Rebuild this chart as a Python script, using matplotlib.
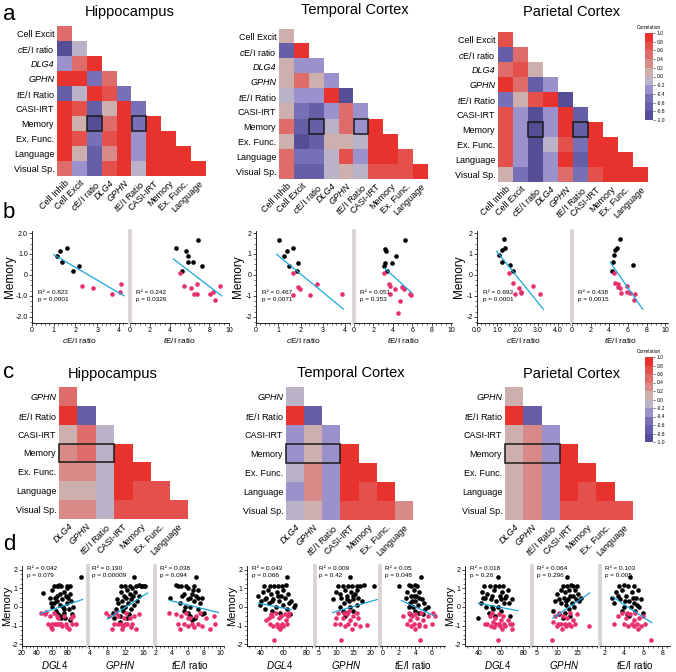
import numpy as np
import matplotlib
matplotlib.use("Agg")
import matplotlib.pyplot as plt
from matplotlib.colors import ListedColormap, BoundaryNorm
from matplotlib.patches import Rectangle
from matplotlib.ticker import AutoMinorLocator
import matplotlib.cm as cm

plt.rcParams["font.family"] = ["Liberation Sans", "DejaVu Sans"]
plt.rcParams["mathtext.fontset"] = "custom"
plt.rcParams["mathtext.it"] = "Liberation Sans:italic"
plt.rcParams["mathtext.rm"] = "Liberation Sans"

# ---------------- data: correlation matrices ----------------
rows_a = ["Cell Excit", "$c$E/I ratio", "DLG4", "GPHN", "$t$E/I Ratio",
          "CASI-IRT", "Memory", "Ex. Func.", "Language", "Visual Sp."]
cols_a = ["Cell Inhib", "Cell Excit", "$c$E/I ratio", "DLG4", "GPHN",
          "$t$E/I Ratio", "CASI-IRT", "Memory", "Ex. Func.", "Language"]

hip_a = [
    [0.5],
    [-0.9, -0.1],
    [-0.3, 0.5, 0.9],
    [0.9, 0.9, -0.5, 0.5],
    [-0.7, -0.1, 0.9, 0.7, -0.5],
    [0.9, 0.7, -0.7, 0.1, 0.9, -0.5],
    [0.9, 0.1, -0.9, 0.5, 0.9, -0.5, 0.9],
    [0.9, 0.7, -0.5, 0.7, 0.9, -0.3, 0.9, 0.9],
    [0.9, 0.1, -0.7, 0.3, 0.9, -0.3, 0.9, 0.9, 0.9],
    [0.5, -0.3, -0.7, 0.7, 0.9, -0.1, 0.9, 0.9, 0.9, 0.9],
]
tmp_a = [
    [0.1],
    [-0.7, 0.9],
    [0.1, -0.3, -0.3],
    [0.1, 0.5, 0.1, -0.3],
    [-0.1, -0.3, -0.3, 0.9, -0.9],
    [0.1, -0.5, -0.7, -0.3, 0.5, -0.3],
    [0.5, -0.7, -0.7, -0.1, 0.5, -0.3, 0.9],
    [0.1, -0.9, -0.7, 0.1, 0.1, -0.1, 0.9, 0.9],
    [0.5, -0.5, -0.5, -0.1, 0.7, -0.3, 0.9, 0.9, 0.7],
    [0.5, -0.7, -0.7, -0.1, 0.1, -0.1, 0.7, 0.7, 0.7, 0.9],
]
par_a = [
    [0.7],
    [-0.7, 0.5],
    [0.5, 0.7, 0.1],
    [0.9, 0.5, -0.7, -0.3],
    [-0.5, 0.1, 0.7, 0.9, -0.9],
    [0.7, -0.3, -0.9, -0.3, 0.9, -0.7],
    [0.7, -0.3, -0.9, -0.3, 0.9, -0.7, 0.9],
    [0.7, -0.3, -0.9, -0.1, 0.7, -0.5, 0.9, 0.9],
    [0.7, -0.3, -0.9, -0.3, 0.9, -0.7, 0.9, 0.9, 0.9],
    [0.1, -0.5, -0.9, -0.3, 0.5, -0.5, 0.7, 0.9, 0.9, 0.9],
]

rows_c = ["GPHN", "$t$E/I Ratio", "CASI-IRT", "Memory", "Ex. Func.", "Language", "Visual Sp."]
cols_c = ["DLG4", "GPHN", "$t$E/I Ratio", "CASI-IRT", "Memory", "Ex. Func.", "Language"]

hip_c = [
    [0.5],
    [0.9, -0.7],
    [0.1, 0.5, -0.1],
    [0.3, 0.5, -0.1, 0.9],
    [0.3, 0.3, -0.1, 0.9, 0.9],
    [0.1, 0.1, -0.1, 0.9, 0.7, 0.7],
    [0.3, 0.3, -0.1, 0.7, 0.7, 0.7, 0.7],
]
tmp_c = [
    [-0.1],
    [0.9, -0.7],
    [-0.3, 0.1, -0.3],
    [-0.3, 0.1, -0.3, 0.9],
    [-0.1, 0.3, -0.3, 0.9, 0.9],
    [-0.3, 0.3, -0.3, 0.9, 0.7, 0.9],
    [-0.1, 0.1, -0.3, 0.7, 0.7, 0.7, 0.3],
]
par_c = [
    [0.1],
    [0.9, -0.7],
    [0.1, 0.3, -0.3],
    [0.1, 0.3, -0.3, 0.9],
    [0.1, 0.3, -0.3, 0.9, 0.9],
    [0.1, 0.3, -0.3, 0.9, 0.7, 0.9],
    [0.1, 0.3, -0.3, 0.7, 0.7, 0.7, 0.7],
]

# ---------------- data: panel b scatter ----------------
hip_ce_bx = [1.13, 1.29, 1.36, 1.6, 1.9, 2.18]
hip_ce_by = [0.89, 1.16, 0.6, 1.29, 0.19, 0.45]
hip_ce_px = [2.3, 2.82, 3.66, 4.08, 4.05]
hip_ce_py = [-0.53, -0.64, -0.9, -0.42, -0.84]
hip_ce_fit = ([1.0, 4.23], [0.97, -1.0])

hip_te_bx = [4.62, 5.66, 5.89, 5.83, 6.4, 6.9, 7.3, 5.25]
hip_te_by = [1.29, 1.16, 0.89, 0.6, 0.6, 1.69, 0.45, 0.19]
hip_te_px = [5.05, 5.45, 6.16, 6.73, 6.5, 6.73, 8.08, 8.4, 8.6, 9.1]
hip_te_py = [0.11, -0.53, -0.64, -0.43, -0.92, -0.9, -0.93, -0.8, -1.22, -0.52]
hip_te_fit = ([4.38, 9.26], [0.76, -1.0])

tmp_ce_bx = [1.05, 1.27, 1.38, 1.65, 1.48, 1.87, 1.86]
tmp_ce_by = [1.69, 0.9, 1.14, 1.29, 0.45, 0.58, 0.18]
tmp_ce_px = [1.65, 1.68, 1.9, 1.98, 2.43, 2.74, 3.85]
tmp_ce_py = [0.08, -0.95, -0.56, -0.66, -0.98, -0.45, -0.92]
tmp_ce_fit = ([0.93, 3.93], [0.98, -1.64])

tmp_te_bx = [3.16, 3.34, 3.23, 3.1, 3.92, 4.37, 5.3, 3.4]
tmp_te_by = [1.26, 1.14, 0.58, 0.45, 0.58, 0.9, 1.69, 0.18]
tmp_te_px = [3.09, 3.6, 3.75, 3.75, 4.27, 4.78, 4.99, 5.12, 5.74, 5.84, 4.5]
tmp_te_py = [0.08, -0.45, -0.55, -0.93, -0.66, -1.25, -0.59, -0.66, -0.93, -0.97, -1.8]
tmp_te_fit = ([3.16, 5.92], [0.32, -0.84])

par_ce_bx = [1.1, 1.25, 1.33, 1.38, 1.25, 1.64, 1.79]
par_ce_by = [0.93, 1.17, 1.71, 1.3, 0.61, 0.48, 0.21]
par_ce_px = [1.58, 1.79, 1.86, 2.07, 2.17, 2.2, 2.75, 3.11]
par_ce_py = [0.1, -0.4, -0.92, -0.64, -0.8, -0.88, -0.55, -0.93]
par_ce_fit = ([0.97, 3.28], [1.13, -1.64])

par_te_bx = [4.27, 4.44, 4.52, 4.62, 4.87, 5.16, 6.52]
par_te_by = [0.18, 0.61, 0.93, 1.17, 1.3, 1.71, 0.48]
par_te_px = [4.52, 4.62, 4.91, 4.98, 5.16, 5.23, 5.88, 5.88, 6.24, 6.6, 6.77]
par_te_py = [0.1, -0.4, -0.6, -0.45, -0.64, -0.88, -0.8, -0.55, -0.87, -1.2, -0.93]
par_te_fit = ([4.09, 7.59], [0.61, -1.64])

stats_b = [["R² = 0.823\np = 0.0001", "R² = 0.242\np = 0.0326"],
           ["R² = 0.467\np = 0.0071", "R² = 0.051\np = 0.353"],
           ["R² = 0.693\np = 0.0001", "R² = 0.438\np = 0.0015"]]

# ---------------- data: panel d scatter ----------------
hip_dlg_bx = [48, 57, 60, 62, 65, 66, 68, 69, 70, 71, 72, 73, 74, 75, 76, 77, 78, 79, 80, 80,
              81, 82, 83, 84, 85, 86, 87, 70, 72, 66, 60, 64, 58, 76, 83, 98, 68, 62, 66]
hip_dlg_by = [0.75, 0.5, 0.9, 0.2, -0.2, 0.3, 1.1, 1.2, 0.7, -0.5, 1.1, 0.4, 0.0, -0.3, 0.8, -0.6,
              0.6, 0.2, 1.0, 1.1, 0.5, -0.1, 0.7, 1.1, 0.3, -0.4, 0.0, 0.1, -0.6, 0.6, 0.0, 0.5,
              0.2, -0.1, -0.7, 1.6, -0.4, 1.1, 1.1]
hip_dlg_px = [45, 50, 52, 55, 57, 58, 60, 62, 63, 65, 67, 68, 70, 72, 73, 75, 78, 80, 82, 85,
              88, 92, 86, 60, 66]
hip_dlg_py = [-0.35, -0.4, -0.25, -0.9, -0.5, -1.1, -0.9, -0.3, -0.9, -0.9, -0.6, -0.9, -0.9,
              -0.9, -1.0, -0.5, -0.9, -1.1, -1.2, -0.6, -0.5, -0.9, -0.9, -1.2, -0.5]
hip_dlg_fit = ([45, 100], [-0.35, 0.4])

hip_gph_bx = [9.2, 9.5, 10, 10.2, 10.5, 10.8, 11, 11, 11.3, 11.5, 11.8, 12, 12, 12.2, 12.4, 12.5,
              12.7, 13, 13, 13.2, 13.4, 13.6, 13.8, 14, 14, 14.2, 14.5, 14.7, 15, 15.2, 15.5,
              15.8, 16.2, 16.5, 10.8, 12.8, 11.2]
hip_gph_by = [-0.3, -0.6, -0.1, 0.4, 0.2, -0.5, 0.8, 1.1, 0.3, -0.2, 0.6, 1.1, 0.0, 0.5, -0.6,
              0.9, 0.2, 1.1, 0.7, -0.1, 0.4, 1.0, 0.6, 1.6, 0.1, 0.8, 1.1, 0.3, 1.2, 0.6, 1.1,
              1.1, 1.1, 1.1, -0.8, -0.4, 0.0]
hip_gph_px = [7.8, 8.5, 9, 9.5, 10, 10.3, 10.5, 11, 11.5, 11.8, 12, 12.3, 12.5, 13, 13.2, 13.5,
              14, 14.5, 15, 11.2]
hip_gph_py = [-0.35, -0.5, -1.2, -0.9, -0.3, -0.9, -0.5, -0.9, -1.0, -0.6, -0.9, -0.3, -0.9,
              -0.6, -1.1, -0.9, -0.5, -1.2, -0.4, -1.2]
hip_gph_fit = ([8, 17], [-0.65, 0.75])

hip_tei_bx = [3.8, 4.5, 4.8, 5, 5.2, 5.5, 5.5, 5.8, 6, 6, 6.2, 6.3, 6.5, 6.5, 6.7, 6.8, 7, 7,
              7.2, 7.3, 7.5, 7.7, 6, 5.7, 6.3, 6.9, 7.2, 5.3, 6.6, 8, 7.8]
hip_tei_by = [0.5, 1.2, 1.1, 0.2, 1.1, 0.7, -0.2, 1.1, 0.4, 1.0, 0.0, -0.5, 0.7, -0.7, 0.3, 1.1,
              1.6, 0.6, -0.1, 0.9, 0.2, -0.4, -0.3, 0.0, 0.5, -0.6, 0.5, 0.6, 0.9, -0.3, 0.5]
hip_tei_px = [3.6, 4.5, 4.8, 5, 5.2, 5.5, 5.8, 6, 6.2, 6.5, 6.8, 7, 7.3, 7.5, 7.8, 8.2, 8.8,
              9.2, 9.4, 6]
hip_tei_py = [-0.35, -0.4, -0.9, -1.2, -0.5, -0.9, -0.3, -1.0, -0.6, -0.9, -1.1, -0.5, -0.9,
              -0.3, -1.0, -0.6, -1.2, -0.5, -0.9, -0.6]
hip_tei_fit = ([3.7, 9.8], [0.35, -0.3])

tmp_dlg_bx = [38, 39, 40, 42, 43, 44, 45, 47, 48, 49, 50, 51, 52, 53, 54, 55, 56, 57, 58, 59,
              60, 61, 62, 63, 63, 64, 65, 66, 67, 69, 70, 46, 55, 60, 50, 44]
tmp_dlg_by = [0.6, 0.1, 0.3, 0.8, 1.1, -0.1, 0.5, 0.2, 1.1, 0.7, -0.2, 0.4, 1.1, 0.0, 0.8, 1.1,
              0.3, -0.3, 0.6, 1.1, 0.1, 0.5, 1.2, 1.6, -0.1, 0.7, 0.2, -0.4, 0.3, 0.0, 0.1, 0.9,
              0.6, 0.9, 0.3, 0.4]
tmp_dlg_px = [45, 47, 48, 50, 51, 52, 53, 54, 55, 56, 57, 58, 59, 60, 61, 62, 63, 64, 65, 49, 58]
tmp_dlg_py = [-0.7, -0.6, -0.9, -0.5, -1.0, -1.8, -0.3, -0.9, -1.1, -0.6, -1.2, -0.5, -0.9,
              -1.0, -0.4, -0.7, -0.9, -0.5, -0.3, -0.4, -1.0]
tmp_dlg_fit = ([38, 67], [0.2, -0.15])

tmp_gph_bx = [9, 10, 10.5, 11, 11.5, 12, 12.3, 12.5, 13, 13, 13.5, 13.8, 14, 14, 14.3, 14.5,
              15, 15, 15.5, 16, 16, 16.5, 17, 17.5, 18, 12, 13.2, 14.8, 11, 21, 12.7, 16]
tmp_gph_by = [0.4, 0.8, 1.1, 0.0, 0.5, 1.1, 0.2, 0.9, -0.3, 0.6, 1.1, 0.3, 1.6, 0.0, 0.8, 1.1,
              0.4, -0.2, 0.7, 1.1, 0.1, 0.5, 1.1, 0.3, 1.2, -0.2, 0.4, 0.6, 0.7, 1.1, -0.5, 0.9]
tmp_gph_px = [9.5, 10, 10.5, 11, 11.3, 12, 12.5, 13, 13.5, 14, 14.5, 15, 15.5, 16, 16.5, 17,
              19, 13.8, 12.2]
tmp_gph_py = [-0.9, -0.6, -0.3, -0.9, -1.8, -0.6, -1.0, -0.4, -0.9, -0.7, -1.2, -0.5, -0.9,
              -0.3, -0.6, -1.0, -0.95, -0.2, -0.3]
tmp_gph_fit = ([9, 22], [-0.3, 0.4])

tmp_tei_bx = [2, 2.8, 3, 3.2, 3.3, 3.5, 3.5, 3.7, 3.8, 3.9, 4, 4, 4.1, 4.2, 4.3, 4.5, 4.5, 4.7,
              4.8, 5, 5.2, 5.5, 3.4, 3.6, 4.4, 3.8, 4.9, 3.2]
tmp_tei_by = [1.1, 0.5, 0.8, 1.2, 0.2, 1.1, 0.6, 0.0, 0.9, 0.3, 1.2, -0.2, 0.6, 1.1, 0.1, 0.8,
              -0.3, 1.6, 0.4, 0.2, -0.1, 0.0, -0.4, 0.3, 0.5, 0.6, -0.4, 0.0]
tmp_tei_px = [2.5, 3, 3.2, 3.4, 3.5, 3.6, 3.8, 4, 4, 4.2, 4.4, 4.5, 4.6, 4.7, 4.9, 5.2, 5.5, 6,
              6.4, 6.2]
tmp_tei_py = [-0.5, -0.9, -0.3, -0.7, -1.0, -0.5, -0.9, -1.2, -0.4, -0.6, -0.9, -1.0, -1.8,
              -0.3, -0.7, -1.0, -0.5, -0.9, -0.5, -0.3]
tmp_tei_fit = ([2.3, 6.4], [0.35, -0.5])

par_dlg_bx = [40, 42, 43, 45, 46, 47, 48, 49, 50, 51, 52, 53, 54, 55, 56, 57, 57, 58, 59, 60,
              61, 62, 63, 64, 65, 67, 68, 70, 44, 52, 60, 66, 55]
par_dlg_by = [-0.6, 0.2, 0.8, 1.1, 0.5, 0.0, 0.7, -0.3, 1.1, 0.4, 0.6, -0.1, 0.9, 1.1, 0.3, 1.6,
              0.0, 1.1, 0.6, -0.2, 0.8, 1.1, 0.2, 0.5, 0.6, 0.2, -0.5, 0.4, 0.5, 0.0, 0.4, 0.9,
              -0.5]
par_dlg_px = [48, 50, 51, 52, 53, 54, 55, 56, 57, 58, 59, 60, 61, 62, 63, 64, 66, 68, 70, 70,
              46, 58]
par_dlg_py = [-0.9, -0.5, -1.0, -0.3, -0.8, -1.1, -0.6, -0.9, -1.8, -0.4, -1.0, -0.7, -1.2,
              -0.5, -0.9, -1.0, -0.7, -0.9, -1.2, -0.9, -0.9, -0.9]
par_dlg_fit = ([40, 75], [0.2, -0.2])

par_gph_bx = [9, 9.5, 10, 10.5, 11, 11, 11.5, 11.8, 12, 12, 12.3, 12.5, 12.6, 12.8, 13, 13,
              13.3, 13.5, 13.8, 14, 14, 14.3, 14.5, 14.8, 15, 15.2, 15.5, 16, 11.5, 10.5, 13.2,
              12.2]
par_gph_by = [-0.2, 0.3, 0.7, -0.4, 0.2, 0.9, 1.1, 0.5, -0.3, 0.8, 0.1, 1.1, 1.6, 0.4, -0.1,
              0.9, 0.6, 1.2, 0.2, 1.1, 0.6, 0.0, 0.9, 0.4, 1.1, 0.7, 0.3, 0.5, -0.6, 0.4, -0.5,
              0.3]
par_gph_px = [8.8, 9, 9.5, 10, 10.5, 11, 11.2, 11.5, 12, 12.2, 12.5, 13, 13.2, 13.5, 14, 14.5,
              15, 18, 10.2]
par_gph_py = [-1.8, -0.8, -0.5, -1.0, -0.3, -0.9, -1.2, -0.5, -0.9, -1.0, -0.6, -0.9, -0.3,
              -1.0, -0.7, -0.9, -0.4, -1.0, -0.9]
par_gph_fit = ([9, 18.2], [-0.6, 0.75])

par_tei_bx = [2.8, 3, 3.2, 3.5, 3.6, 3.8, 3.8, 4, 4, 4.2, 4.3, 4.4, 4.5, 4.6, 4.7, 4.8, 5, 5,
              5.2, 5.3, 5.5, 5.6, 5.8, 6, 4.1, 3.4, 4.9, 4.5, 5.4]
par_tei_by = [0.5, 0.2, 0.8, 1.1, 0.4, -0.2, 0.9, 0.0, 1.2, 0.6, -0.4, 1.1, 0.3, 1.6, 0.0, 0.8,
              1.1, 0.2, -0.2, 0.5, 0.9, 0.0, 0.4, -0.3, 0.3, 0.6, 0.5, -0.5, 0.1]
par_tei_px = [3, 3.4, 3.8, 4, 4.2, 4.4, 4.6, 4.8, 5, 5, 5.2, 5.4, 5.5, 5.6, 5.8, 6, 6.2, 6.8, 4.3]
par_tei_py = [-0.9, -0.5, -0.3, -0.9, -0.6, -1.0, -0.4, -0.9, -0.7, -1.0, -0.3, -0.9, -1.2,
              -0.6, -1.0, -0.5, -0.9, -1.8, -0.3]
par_tei_fit = ([2.8, 6.9], [0.55, -0.85])

stats_d = [["R² = 0.042\np = 0.079", "R² = 0.190\np = 0.00009", "R² = 0.038\np = 0.094"],
           ["R² = 0.043\np = 0.066", "R² = 0.009\np = 0.42", "R² = 0.05\np = 0.048"],
           ["R² = 0.018\np = 0.26", "R² = 0.064\np = 0.296", "R² = 0.103\np = 0.005"]]

# ---------------- style ----------------
W, H = 676, 672
PINK = "#E8306E"
BLUE = "#1BA6DE"
SEP = "#D8D2D2"
cmap = ListedColormap(["#534E96", "#645FA6", "#7870B6", "#9B91CC", "#BAB3C8",
                       "#CDB0AE", "#D88A88", "#DD6C6A", "#E4514D", "#E8322D"])
norm = BoundaryNorm(np.linspace(-1, 1, 11), cmap.N)

fig = plt.figure(figsize=(W / 100, H / 100), dpi=100)


def pax(x0, y0, x1, y1):
    return fig.add_axes([x0 / W, 1 - y1 / H, (x1 - x0) / W, (y1 - y0) / H])


def ftext(x, y, s, **kw):
    fig.text(x / W, 1 - y / H, s, **kw)


def heatmap(box, rows, cols, mat, box_cols, fs=6.5):
    ax = pax(*box)
    n, m = len(rows), len(cols)
    arr = np.full((n, m), np.nan)
    for i, r in enumerate(mat):
        arr[i, :len(r)] = r
    ax.imshow(np.ma.masked_invalid(arr), cmap=cmap, norm=norm, aspect="auto",
              extent=(0, m, n, 0), interpolation="nearest")
    ax.set_xlim(0, m)
    ax.set_ylim(n, 0)
    ax.set_yticks(np.arange(n) + 0.5, rows, fontsize=fs)
    ax.set_xticks(np.arange(m) + 0.5, cols, fontsize=fs, rotation=45,
                  ha="right", rotation_mode="anchor")
    ax.tick_params(length=0, pad=2)
    for lab in ax.get_xticklabels() + ax.get_yticklabels():
        if lab.get_text() in ("DLG4", "GPHN"):
            lab.set_fontstyle("italic")
    for s in ax.spines.values():
        s.set_visible(False)
    mi = rows.index("Memory")
    for c0, c1 in box_cols:
        ax.add_patch(Rectangle((c0, mi), c1 - c0, 1, fill=False, ec="#1a1a1a", lw=1.1,
                               clip_on=False))
    return ax


def colorbar(box):
    cax = pax(*box)
    cb = fig.colorbar(cm.ScalarMappable(norm=norm, cmap=cmap), cax=cax,
                      ticks=np.linspace(-1, 1, 11))
    cb.ax.set_yticklabels([f"{v:.1f}" for v in np.linspace(-1, 1, 11)])
    cb.ax.tick_params(labelsize=3.5, length=1.5, width=0.4, pad=1)
    cb.outline.set_visible(False)
    cax.set_title("Correlation", fontsize=3.5, pad=3)


def scatter(box, bx, by, px, py, fit, xlim, xticks, ylim, yticks, ylabels=None,
            xfmt="{:g}", sep=False, xlabel=None, stats=None, stats_top=False, minor=5,
            ylab_off=-12, ylab_fs=8.5):
    ax = pax(*box)
    ax.scatter(bx, by, s=11, c="black", lw=0, zorder=3)
    ax.scatter(px, py, s=11, c=PINK, lw=0, zorder=3)
    ax.plot(fit[0], fit[1], color=BLUE, lw=0.9, zorder=4)
    ax.set_xlim(*xlim)
    ax.set_ylim(*ylim)
    ax.set_xticks(xticks, [xfmt.format(v) for v in xticks])
    ax.xaxis.set_minor_locator(AutoMinorLocator(minor))
    for s in ("top", "right"):
        ax.spines[s].set_visible(False)
    ax.spines["bottom"].set_linewidth(0.6)
    if sep:
        ax.spines["left"].set_color(SEP)
        ax.spines["left"].set_linewidth(2.6)
        ax.set_yticks([])
    else:
        ax.spines["left"].set_linewidth(0.6)
        ax.set_yticks(yticks, ylabels if ylabels else [f"{v:g}" for v in yticks])
        ax.yaxis.set_minor_locator(AutoMinorLocator(4))
        ax.set_ylabel("Memory", fontsize=ylab_fs)
        # right edge of the rotated label sits ylab_off px from the axis line
        ax.yaxis.set_label_coords(ylab_off / (box[2] - box[0]), 0.5)
    ax.tick_params(labelsize=5, length=2, width=0.5, pad=1)
    ax.tick_params(which="minor", length=1.2, width=0.4)
    if xlabel:
        ax.set_xlabel(xlabel, fontsize=6 if not stats_top else 7, labelpad=1)
    if stats:
        if stats_top:
            ax.text(0.07, 1.0, stats, transform=ax.transAxes, fontsize=4.6,
                    va="top", ha="left", linespacing=1.5)
        else:
            ax.text(0.06, 0.36, stats, transform=ax.transAxes, fontsize=4.6,
                    va="top", ha="left", linespacing=1.6)
    return ax


# ---------------- panel a ----------------
ftext(9, 14, "a", fontsize=16, va="center", ha="center")
heatmap((57, 26, 206, 176), rows_a, cols_a, hip_a, [(2, 3), (5, 6)])
heatmap((279, 29, 428, 179), rows_a, cols_a, tmp_a, [(2, 3), (5, 6)])
heatmap((498, 32, 648, 182), rows_a, cols_a, par_a, [(2, 3), (5, 6)])
ftext(130, 12, "Hippocampus", fontsize=10.5, ha="center", va="center")
ftext(355, 10, "Temporal Cortex", fontsize=10.5, ha="center", va="center")
ftext(572, 12, "Parietal Cortex", fontsize=10.5, ha="center", va="center")
colorbar((645, 33, 653, 120))

# ---------------- panel b ----------------
ftext(9, 212, "b", fontsize=16, va="center", ha="center")
yb = (-2.3, 2.1)
ybt = [-2, -1, 0, 1, 2]
yl_hip = ["-2.0", "-1.0", "0", "1.0", "2.0"]
scatter((32, 231, 127, 323), hip_ce_bx, hip_ce_by, hip_ce_px, hip_ce_py, hip_ce_fit,
        (0, 4.37), [0, 1, 2, 3, 4], yb, ybt, yl_hip, xlabel="$c$E/I ratio", stats=stats_b[0][0],
        ylab_off=-16)
scatter((130, 231, 229, 323), hip_te_bx, hip_te_by, hip_te_px, hip_te_py, hip_te_fit,
        (0, 10), [0, 2, 4, 6, 8, 10], yb, ybt, sep=True, xlabel="$t$E/I ratio",
        stats=stats_b[0][1], minor=4)
scatter((256, 231, 350, 323), tmp_ce_bx, tmp_ce_by, tmp_ce_px, tmp_ce_py, tmp_ce_fit,
        (0, 4.22), [0, 1, 2, 3, 4], yb, ybt, xlabel="$c$E/I ratio", stats=stats_b[1][0])
scatter((354, 231, 452, 323), tmp_te_bx, tmp_te_by, tmp_te_px, tmp_te_py, tmp_te_fit,
        (0, 10.1), [0, 2, 4, 6, 8, 10], yb, ybt, sep=True, xlabel="$t$E/I ratio",
        stats=stats_b[1][1], minor=4)
scatter((477, 231, 570, 323), par_ce_bx, par_ce_by, par_ce_px, par_ce_py, par_ce_fit,
        (0, 4.6), [0, 1, 2, 3, 4], yb, ybt, xfmt="{:.1f}", xlabel="$c$E/I ratio",
        stats=stats_b[2][0])
scatter((572, 231, 668, 323), par_te_bx, par_te_by, par_te_px, par_te_py, par_te_fit,
        (0, 10.3), [0, 2, 4, 6, 8, 10], yb, ybt, sep=True, xlabel="$t$E/I ratio",
        stats=stats_b[2][1], minor=4)

# ---------------- panel c ----------------
ftext(9, 372, "c", fontsize=16, va="center", ha="center")
heatmap((59, 387, 187, 519), rows_c, cols_c, hip_c, [(0, 3)])
heatmap((286, 387, 413, 520), rows_c, cols_c, tmp_c, [(0, 3)])
heatmap((505, 387, 633, 520), rows_c, cols_c, par_c, [(0, 3)])
ftext(113, 374, "Hippocampus", fontsize=10.5, ha="center", va="center")
ftext(351, 373, "Temporal Cortex", fontsize=10.5, ha="center", va="center")
ftext(572, 374, "Parietal Cortex", fontsize=10.5, ha="center", va="center")
colorbar((645, 357, 653, 442))

# ---------------- panel d ----------------
ftext(9, 545, "d", fontsize=16, va="center", ha="center")
yd = (-2.1, 2.2)
ydt = [-2, -1, 0, 1, 2]
groups = [
    [(22, 87, hip_dlg_bx, hip_dlg_by, hip_dlg_px, hip_dlg_py, hip_dlg_fit, (20, 106), [20, 40, 60, 80]),
     (88, 152, hip_gph_bx, hip_gph_by, hip_gph_px, hip_gph_py, hip_gph_fit, (3.7, 18), [4, 8, 12, 16]),
     (155, 224, hip_tei_bx, hip_tei_by, hip_tei_px, hip_tei_py, hip_tei_fit, (1.9, 10.5), [2, 4, 6, 8, 10])],
    [(247, 312, tmp_dlg_bx, tmp_dlg_by, tmp_dlg_px, tmp_dlg_py, tmp_dlg_fit, (28, 85), [40, 60, 80]),
     (315, 378, tmp_gph_bx, tmp_gph_by, tmp_gph_px, tmp_gph_py, tmp_gph_fit, (3.8, 22.2), [5, 10, 15, 20]),
     (380, 445, tmp_tei_bx, tmp_tei_by, tmp_tei_px, tmp_tei_py, tmp_tei_fit, (-0.3, 7.6), [0, 2, 4, 6])],
    [(465, 530, par_dlg_bx, par_dlg_by, par_dlg_px, par_dlg_py, par_dlg_fit, (28, 86), [40, 60, 80]),
     (532, 597, par_gph_bx, par_gph_by, par_gph_px, par_gph_py, par_gph_fit, (3.8, 20), [5, 10, 15]),
     (600, 670, par_tei_bx, par_tei_by, par_tei_px, par_tei_py, par_tei_fit, (1.5, 8.8), [2, 4, 6, 8])],
]
xl_d = ["$DGL4$", "$GPHN$", "$t$E/I ratio"]
for g, group in enumerate(groups):
    for k, (x0, x1, bx, by, px, py, fit, xlim, xt) in enumerate(group):
        scatter((x0, 566, x1, 646), bx, by, px, py, fit, xlim, xt, yd, ydt,
                sep=(k > 0), xlabel=xl_d[k], stats=stats_d[g][k], stats_top=True, minor=4,
                ylab_off=-10, ylab_fs=8)

fig.savefig("out.png", dpi=100)
